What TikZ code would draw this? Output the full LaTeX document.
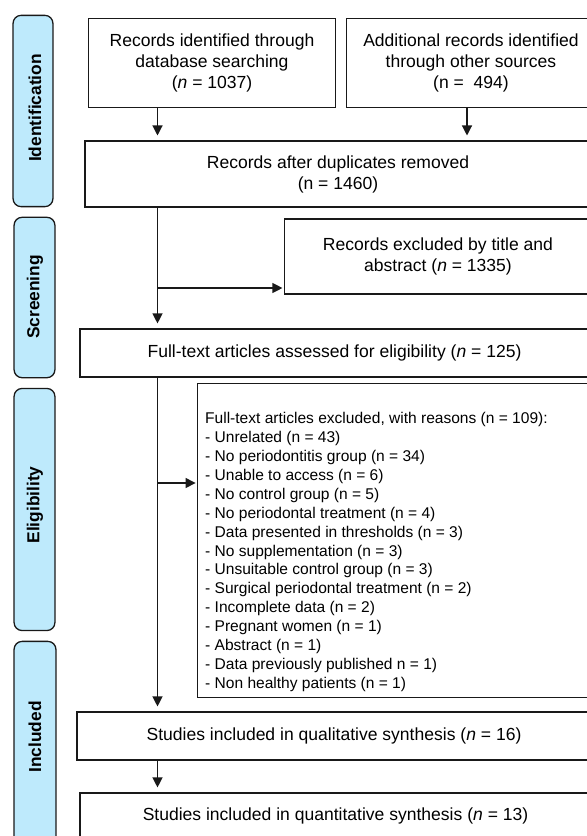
\documentclass[tikz,border=0pt]{standalone}
\usepackage{fontspec}
\setmainfont{Liberation Sans}
\usetikzlibrary{arrows.meta,calc}
\definecolor{phaseblue}{RGB}{190,234,252}
\definecolor{edge}{RGB}{25,25,25}
\begin{document}
\begin{tikzpicture}[x=1bp,y=-1bp,
  box/.style={draw=edge, line width=1.3bp, fill=white, inner sep=0pt, align=center,
              font=\fontsize{17.6}{21}\selectfont},
  phase/.style={draw=edge, line width=1.3bp, fill=phaseblue, rounded corners=8bp, inner sep=0pt},
  phaselabel/.style={rotate=90, inner sep=0pt, font=\bfseries\fontsize{17.4}{20}\selectfont},
  arr/.style={-{Triangle[length=10bp,width=10bp]}, line width=1.2bp, draw=edge, shorten >=5bp},
  excltext/.style={anchor=west, align=left, inner sep=0pt, font=\fontsize{15.6}{19}\selectfont}]
\clip (0,0) rectangle (587,836);
\fill[white] (0,0) rectangle (587,836);

% phase bars
\node[phase, minimum width=40, minimum height=192] (pid) at (33,111) {};
\node[phase, minimum width=41, minimum height=161] (psc) at (34.5,297.5) {};
\node[phase, minimum width=41, minimum height=243] (pel) at (34.5,509.5) {};
\node[phase, minimum width=42, minimum height=209] (pin) at (35,745.5) {};
\node[phaselabel] (lid) at (35,108) {Identification};
\node[phaselabel] (lsc) at (35,297) {Screening};
\node[phaselabel] (lel) at (35,505) {Eligibility};
\node[phaselabel] (lin) at (35,737) {Included};

% boxes
\node[box, minimum width=248, minimum height=90] (box1) at (212,63)
  {Records identified through\\database searching\\(\textit{n} = 1037)};
\node[box, minimum width=250, minimum height=90] (box2) at (471,63)
  {Additional records identified\\through other sources\\(n =\ \ 494)};
\node[box, minimum width=508, minimum height=66] (box3) at (338,174)
  {Records after duplicates removed\\(n = 1460)};
\node[box, minimum width=308, minimum height=75] (rex) at (438,256.5)
  {Records excluded by title and\\abstract (\textit{n} = 1335)};
\node[box, minimum width=511, minimum height=48] (box4) at (334.5,353)
  {Full-text articles assessed for eligibility (\textit{n} = 125)};
\node[box, minimum width=395, minimum height=315] (excl) at (394.5,540.5) {};
\node[excltext] (exlist) at (205,552) {Full-text articles excluded, with reasons (n = 109):\\
- Unrelated (n = 43)\\
- No periodontitis group (n = 34)\\
- Unable to access (n = 6)\\
- No control group (n = 5)\\
- No periodontal treatment (n = 4)\\
- Data presented in thresholds (n = 3)\\
- No supplementation (n = 3)\\
- Unsuitable control group (n = 3)\\
- Surgical periodontal treatment (n = 2)\\
- Incomplete data (n = 2)\\
- Pregnant women (n = 1)\\
- Abstract (n = 1)\\
- Data previously published n = 1)\\
- Non healthy patients (n = 1)};
\node[box, minimum width=516, minimum height=48] (box5) at (334,736)
  {Studies included in qualitative synthesis (\textit{n} = 16)};
\node[box, minimum width=513, minimum height=46] (box6) at (335.5,816)
  {Studies included in quantitative synthesis (\textit{n} = 13)};

% connectors
\coordinate (sp) at (157.5,0);
\coordinate (c2) at (467,0);
\coordinate (j1) at (157.5,288);
\coordinate (j2) at (157.5,483);
\draw[arr] (box1.south -| sp) -- (box3.north -| sp);
\draw[arr] (box2.south -| c2) -- (box3.north -| c2);
\draw[arr] (box3.south -| sp) -- (box4.north -| sp);
\draw[arr, shorten >=1.5bp] (j1) -- (j1 -| rex.west);
\draw[arr] (box4.south -| sp) -- (box5.north -| sp);
\draw[arr, shorten >=1.5bp] (j2) -- (j2 -| excl.west);
\draw[arr] (box5.south -| sp) -- (box6.north -| sp);
\end{tikzpicture}
\end{document}
